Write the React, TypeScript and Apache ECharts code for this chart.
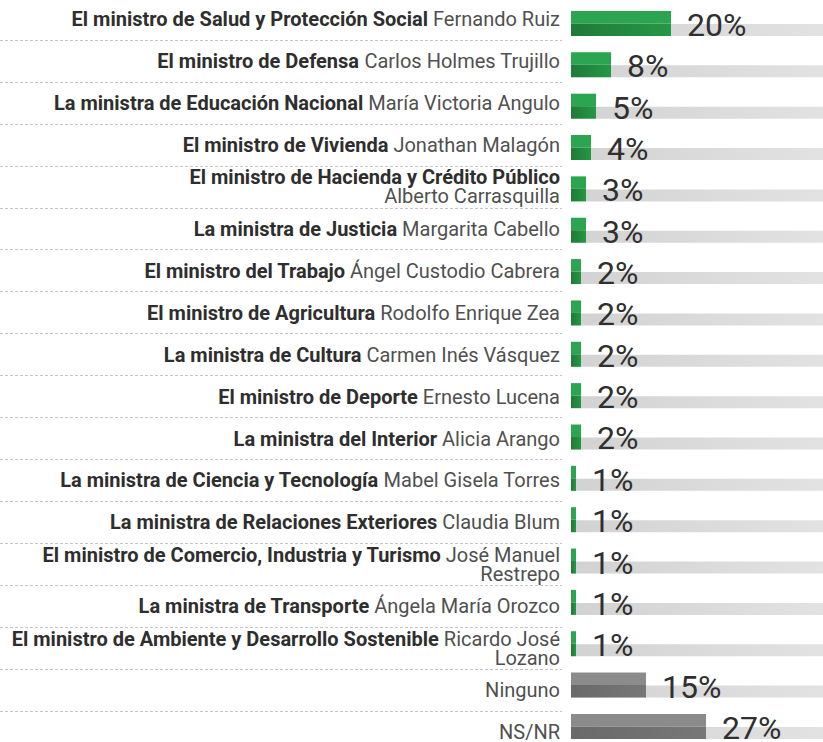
import React, { useEffect, useRef } from "react";
import * as echarts from "echarts";

const boldParts: string[] = [
  "El ministro de Salud y Protección Social",
  "El ministro de Defensa",
  "La ministra de Educación Nacional",
  "El ministro de Vivienda",
  "El ministro de Hacienda y Crédito Público",
  "La ministra de Justicia",
  "El ministro del Trabajo",
  "El ministro de Agricultura",
  "La ministra de Cultura",
  "El ministro de Deporte",
  "La ministra del Interior",
  "La ministra de Ciencia y Tecnología",
  "La ministra de Relaciones Exteriores",
  "El ministro de Comercio, Industria y Turismo",
  "La ministra de Transporte",
  "El ministro de Ambiente y Desarrollo Sostenible",
  "",
  "",
];

const nameParts: string[] = [
  "Fernando Ruiz",
  "Carlos Holmes Trujillo",
  "María Victoria Angulo",
  "Jonathan Malagón",
  "\nAlberto Carrasquilla",
  "Margarita Cabello",
  "Ángel Custodio Cabrera",
  "Rodolfo Enrique Zea",
  "Carmen Inés Vásquez",
  "Ernesto Lucena",
  "Alicia Arango",
  "Mabel Gisela Torres",
  "Claudia Blum",
  "José Manuel\nRestrepo",
  "Ángela María Orozco",
  "Ricardo José\nLozano",
  "Ninguno",
  "NS/NR",
];

const values: number[] = [20, 8, 5, 4, 3, 3, 2, 2, 2, 2, 2, 1, 1, 1, 1, 1, 15, 27];

const isMinister: boolean[] = boldParts.map((b) => b !== "");

const X_MAX = 50.4;

function buildLabel(i: number): string {
  const b = boldParts[i];
  const lines = nameParts[i].split("\n");
  let out = "";
  if (b) out += `{b|${b}}`;
  lines.forEach((ln, k) => {
    if (k > 0) out += "\n";
    if (ln) {
      if (k === 0 && b) out += "{r| }";
      out += `{r|${ln}}`;
    }
  });
  return out;
}

export default function App() {
  const ref = useRef<HTMLDivElement>(null);
  useEffect(() => {
    if (!ref.current) return;
    const chart = echarts.init(ref.current, undefined, { renderer: "svg" });
    const labelFont = "Roboto, 'Liberation Sans', sans-serif";
    const categories = values.map((_, i) => String(i));
    const data = values.map((v, i) => [v, i]);
    chart.setOption({
      animation: false,
      grid: [
        { left: 571, right: 0, top: 2.8, height: 744.3, containLabel: false, outerBoundsMode: "none" },
        { left: 0, width: 562, top: -1.97, height: 755.1, containLabel: false, outerBoundsMode: "none" },
      ],
      xAxis: [
        { type: "value", gridIndex: 0, min: 0, max: X_MAX, show: false },
        { type: "value", gridIndex: 1, min: 0, max: 1, show: false },
      ],
      yAxis: [
        {
          type: "category",
          gridIndex: 0,
          inverse: true,
          data: categories,
          show: false,
        },
        {
          type: "category",
          gridIndex: 1,
          inverse: true,
          position: "right",
          data: categories,
          axisLine: { show: false },
          axisTick: { show: false },
          splitLine: {
            show: true,
            lineStyle: { color: "#c4c4c4", width: 1, type: [3, 2] },
          },
          axisLabel: {
            inside: true,
            margin: 2,
            align: "right",
            formatter: (_v: string, idx: number) => buildLabel(idx),
            rich: {
              b: {
                fontFamily: labelFont,
                fontWeight: "bold",
                fontSize: 20,
                color: "#2e2e2e",
                lineHeight: 19,
              },
              r: {
                fontFamily: labelFont,
                fontSize: 20,
                color: "#505050",
                lineHeight: 19,
              },
            },
          },
        },
      ],
      series: [
        {
          type: "custom",
          clip: false,
          xAxisIndex: 0,
          yAxisIndex: 0,
          encode: { x: 0, y: 1 },
          data,
          renderItem: (params: any, api: any) => {
            const idx = params.dataIndex;
            const v = api.value(0);
            const start = api.coord([0, idx]);
            const end = api.coord([v, idx]);
            const full = api.coord([X_MAX, idx]);
            const cy = start[1];
            const green = isMinister[idx];
            const topColor = green ? "#2ba54f" : "#8b8b8b";
            const botGrad = new echarts.graphic.LinearGradient(0, 0, 1, 0, [
              { offset: 0, color: green ? "#1f7a38" : "#696969" },
              { offset: 1, color: green ? "#259845" : "#777777" },
            ]);
            const children: any[] = [];
            children.push({
              type: "rect",
              shape: { x: start[0], y: cy + 0.5, width: full[0] - start[0], height: 12 },
              style: {
                fill: new echarts.graphic.LinearGradient(0, 0, 1, 0, [
                  { offset: 0, color: "#d2d2d2" },
                  { offset: 1, color: "#e2e2e2" },
                ]),
              },
            });
            children.push({
              type: "rect",
              shape: { x: start[0], y: cy - 12.5, width: end[0] - start[0], height: 12.5 },
              style: { fill: topColor },
            });
            children.push({
              type: "rect",
              shape: { x: start[0], y: cy, width: end[0] - start[0], height: 12.5 },
              style: { fill: botGrad },
            });
            children.push({
              type: "text",
              x: end[0] + 16,
              y: cy + 1.5,
              style: {
                text: v + "%",
                fontFamily: "Roboto, sans-serif",
                fontSize: 32,
                fill: "#2f2f2f",
                align: "left",
                verticalAlign: "middle",
              },
            });
            return { type: "group", children };
          },
        },
      ],
    });
    return () => chart.dispose();
  }, []);
  return (
    <div
      ref={ref}
      style={{ position: "absolute", left: 0, top: 0, width: 823, height: 742, background: "#ffffff" }}
    />
  );
}
